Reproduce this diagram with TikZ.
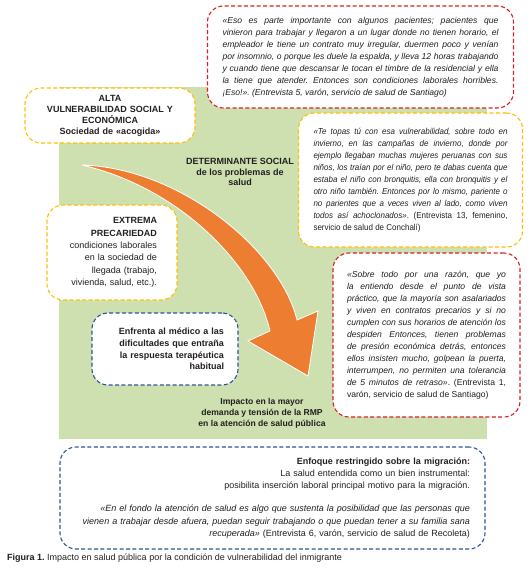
\documentclass[tikz,border=0pt]{standalone}
\usepackage{fontspec}
\setmainfont{Liberation Sans}
\newfontfamily\narrowfont[FakeStretch=0.93]{Liberation Sans}
\definecolor{boxred}{RGB}{218, 32, 38}
\definecolor{boxgold}{RGB}{255, 192, 0}
\definecolor{boxblue}{RGB}{47, 85, 151}
\definecolor{bggreen}{RGB}{206, 224, 176}
\definecolor{arroworange}{RGB}{237, 125, 49}
\definecolor{inkgray}{RGB}{35, 31, 32}
\hyphenpenalty=10000
\exhyphenpenalty=10000
\frenchspacing

\begin{document}
\begin{tikzpicture}[x=1pt, y=-1pt,
  box/.style={draw, line width=1.1pt, dash pattern=on 4pt off 2.4pt, rounded corners=16pt, fill=white, text=inkgray, inner xsep=15pt},
  redbox/.style={box, draw=boxred},
  goldbox/.style={box, draw=boxgold},
  bluebox/.style={box, draw=boxblue},
  quote/.style={align=justify, font=\fontsize{8.6}{12}\selectfont},
  lbl/.style={text=inkgray, inner sep=0pt, font=\fontsize{9}{12}\selectfont},
]
\useasboundingbox (0,0) rectangle (530,577);

% Background and arrow
\fill[bggreen] (59,87) rectangle (487,439);
\filldraw[fill=arroworange, draw=white, line width=0.8pt]
  (82,165) .. controls (180,168) and (280,250) .. (297,320)
  -- (318,311) -- (308,376) -- (248,341) -- (270,331)
  .. controls (255,265) and (180,188) .. (82,165) -- cycle;

% Quotes
\node[redbox, quote, text width=276pt, minimum height=102pt] (eso) at (360.5,57) {{\itshape «Eso es parte importante con algunos pacientes; pacientes que\linebreak vinieron para trabajar y llegaron a un lugar donde no tienen horario, el\linebreak empleador le tiene un contrato muy irregular, duermen poco y venían\linebreak por insomnio, o porque les duele la espalda, y lleva 12 horas trabajando\linebreak y cuando tiene que descansar le tocan el timbre de la residencial y ella\linebreak la tiene que atender. Entonces son condiciones laborales horribles.\linebreak ¡Eso!». (Entrevista 5, varón, servicio de salud de Santiago)}};
\node[goldbox, quote, text width=194pt, minimum height=134pt, font=\narrowfont\fontsize{8.6}{12}\selectfont] (topas) at (410.5,180) {{\itshape «Te topas tú con esa vulnerabilidad, sobre todo en\linebreak invierno, en las campañas de invierno, donde por\linebreak ejemplo llegaban muchas mujeres peruanas con sus\linebreak niños, los traían por el niño, pero te dabas cuenta que\linebreak estaba el niño con bronquitis, ella con bronquitis y el\linebreak otro niño también. Entonces por lo mismo, pariente o\linebreak no parientes que a veces viven al lado, como viven\linebreak todos así achoclonados»}. (Entrevista 13, femenino,\linebreak servicio de salud de Conchalí)};
\node[redbox, quote, text width=159pt, inner xsep=14pt, minimum height=164pt] (sobre) at (426.5,335) {{\itshape «Sobre todo por una razón, que yo\linebreak la entiendo desde el punto de vista\linebreak práctico, que la mayoría son asalariados\linebreak y viven en contratos precarios y si no\linebreak cumplen con sus horarios de atención los\linebreak despiden Entonces, tienen problemas\linebreak de presión económica detrás, entonces\linebreak ellos insisten mucho, golpean la puerta,\linebreak interrumpen, no permiten una tolerancia\linebreak de 5 minutos de retraso»}. (Entrevista 1,\linebreak varón, servicio de salud de Santiago)};

% Left boxes
\node[goldbox, lbl, inner xsep=15pt, align=center, text width=140pt, minimum height=55pt, font=\bfseries\fontsize{9}{11}\selectfont] (alta) at (110,115.5) {ALTA\\VULNERABILIDAD SOCIAL Y\\ECONÓMICA\\Sociedad de «acogida»};
\node[goldbox, lbl, inner xsep=20pt, align=right, text width=90pt, minimum height=95pt, font=\fontsize{9}{12.3}\selectfont] (extrema) at (112,252.5) {\textbf{EXTREMA}\\\textbf{PRECARIEDAD}\\condiciones laborales\\en la sociedad de\\llegada (trabajo,\\vivienda, salud, etc.).};
\node[bluebox, lbl, inner xsep=14pt, align=right, text width=118pt, minimum height=72pt, font=\bfseries\fontsize{9}{11.7}\selectfont] (enfrenta) at (165,349) {Enfrenta al médico a las\\dificultades que entraña\\la respuesta terapéutica\\habitual};

% Middle labels
\node[lbl, align=center, font=\bfseries\fontsize{9}{10.8}\selectfont] (determinante) at (240,172) {DETERMINANTE SOCIAL\\de los problemas de\\salud};
\node[lbl, align=center, font=\bfseries\fontsize{8.6}{11.2}\selectfont] (impacto) at (262,413) {Impacto en la mayor\\demanda y tensión de la RMP\\en la atención de salud pública};

% Bottom box
\node[bluebox, lbl, inner xsep=15pt, align=right, text width=395pt, minimum height=102pt, font=\fontsize{9}{12.2}\selectfont] (enfoque) at (272.5,498) {\textbf{Enfoque restringido sobre la migración:}\\La salud entendida como un bien instrumental:\\posibilita inserción laboral principal motivo para la migración.\\[11pt]{\itshape «En el fondo la atención de salud es algo que sustenta la posibilidad que las personas que}\\{\itshape vienen a trabajar desde afuera, puedan seguir trabajando o que puedan tener a su familia sana}\\{\itshape recuperada»} (Entrevista 6, varón, servicio de salud de Recoleta)};

% Caption
\node[lbl, anchor=west, font=\fontsize{9}{10}\selectfont] (caption) at (7,558) {\textbf{Figura 1.} Impacto en salud pública por la condición de vulnerabilidad del inmigrante};
\end{tikzpicture}
\end{document}
